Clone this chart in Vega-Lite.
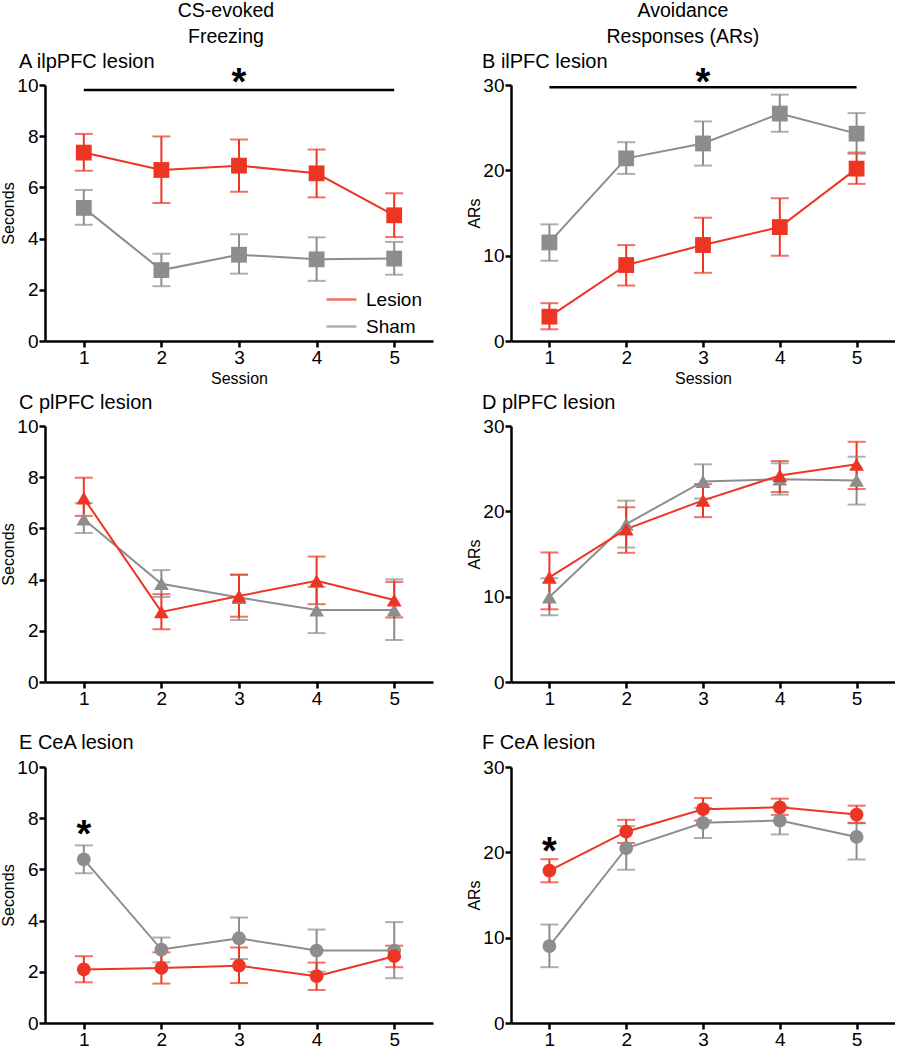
{
 "$schema": "https://vega.github.io/schema/vega-lite/v6.json",
 "padding": {"top": 0, "left": 0, "right": 0, "bottom": 0},
 "datasets": {
  "groups": [
   {"panel":"A","group":"Sham","session":1,"mean":5.2,"lo":4.54,"hi":5.9},
   {"panel":"A","group":"Sham","session":2,"mean":2.77,"lo":2.14,"hi":3.41},
   {"panel":"A","group":"Sham","session":3,"mean":3.37,"lo":2.63,"hi":4.17},
   {"panel":"A","group":"Sham","session":4,"mean":3.19,"lo":2.35,"hi":4.05},
   {"panel":"A","group":"Sham","session":5,"mean":3.22,"lo":2.59,"hi":3.87},
   {"panel":"A","group":"Lesion","session":1,"mean":7.36,"lo":6.65,"hi":8.09},
   {"panel":"A","group":"Lesion","session":2,"mean":6.68,"lo":5.39,"hi":7.99},
   {"panel":"A","group":"Lesion","session":3,"mean":6.85,"lo":5.83,"hi":7.87},
   {"panel":"A","group":"Lesion","session":4,"mean":6.55,"lo":5.61,"hi":7.48},
   {"panel":"A","group":"Lesion","session":5,"mean":4.91,"lo":4.06,"hi":5.77},
   {"panel":"B","group":"Sham","session":1,"mean":11.55,"lo":9.4,"hi":13.67},
   {"panel":"B","group":"Sham","session":2,"mean":21.4,"lo":19.58,"hi":23.3},
   {"panel":"B","group":"Sham","session":3,"mean":23.15,"lo":20.56,"hi":25.73},
   {"panel":"B","group":"Sham","session":4,"mean":26.65,"lo":24.52,"hi":28.87},
   {"panel":"B","group":"Sham","session":5,"mean":24.3,"lo":21.93,"hi":26.71},
   {"panel":"B","group":"Lesion","session":1,"mean":2.85,"lo":1.37,"hi":4.43},
   {"panel":"B","group":"Lesion","session":2,"mean":8.9,"lo":6.5,"hi":11.24},
   {"panel":"B","group":"Lesion","session":3,"mean":11.25,"lo":7.99,"hi":14.45},
   {"panel":"B","group":"Lesion","session":4,"mean":13.35,"lo":9.99,"hi":16.73},
   {"panel":"B","group":"Lesion","session":5,"mean":20.2,"lo":18.41,"hi":22.09},
   {"panel":"C","group":"Sham","session":1,"mean":6.36,"lo":5.82,"hi":6.99},
   {"panel":"C","group":"Sham","session":2,"mean":3.84,"lo":3.32,"hi":4.37},
   {"panel":"C","group":"Sham","session":3,"mean":3.3,"lo":2.42,"hi":4.18},
   {"panel":"C","group":"Sham","session":4,"mean":2.81,"lo":1.91,"hi":3.71},
   {"panel":"C","group":"Sham","session":5,"mean":2.81,"lo":1.64,"hi":4.01},
   {"panel":"C","group":"Lesion","session":1,"mean":7.18,"lo":6.49,"hi":7.98},
   {"panel":"C","group":"Lesion","session":2,"mean":2.74,"lo":2.06,"hi":3.43},
   {"panel":"C","group":"Lesion","session":3,"mean":3.36,"lo":2.55,"hi":4.2},
   {"panel":"C","group":"Lesion","session":4,"mean":3.95,"lo":3.04,"hi":4.9},
   {"panel":"C","group":"Lesion","session":5,"mean":3.2,"lo":2.52,"hi":3.91},
   {"panel":"D","group":"Sham","session":1,"mean":9.95,"lo":7.82,"hi":12.16},
   {"panel":"D","group":"Sham","session":2,"mean":18.5,"lo":15.76,"hi":21.25},
   {"panel":"D","group":"Sham","session":3,"mean":23.5,"lo":21.5,"hi":25.51},
   {"panel":"D","group":"Sham","session":4,"mean":23.77,"lo":21.95,"hi":25.63},
   {"panel":"D","group":"Sham","session":5,"mean":23.62,"lo":20.79,"hi":26.4},
   {"panel":"D","group":"Lesion","session":1,"mean":12.27,"lo":8.52,"hi":15.18},
   {"panel":"D","group":"Lesion","session":2,"mean":17.92,"lo":15.14,"hi":20.48},
   {"panel":"D","group":"Lesion","session":3,"mean":21.29,"lo":19.32,"hi":23.19},
   {"panel":"D","group":"Lesion","session":4,"mean":24.2,"lo":22.26,"hi":25.9},
   {"panel":"D","group":"Lesion","session":5,"mean":25.51,"lo":22.61,"hi":28.15},
   {"panel":"E","group":"Sham","session":1,"mean":6.39,"lo":5.85,"hi":6.94},
   {"panel":"E","group":"Sham","session":2,"mean":2.87,"lo":2.37,"hi":3.34},
   {"panel":"E","group":"Sham","session":3,"mean":3.31,"lo":2.5,"hi":4.12},
   {"panel":"E","group":"Sham","session":4,"mean":2.83,"lo":2.0,"hi":3.65},
   {"panel":"E","group":"Sham","session":5,"mean":2.83,"lo":1.75,"hi":3.94},
   {"panel":"E","group":"Lesion","session":1,"mean":2.09,"lo":1.59,"hi":2.61},
   {"panel":"E","group":"Lesion","session":2,"mean":2.15,"lo":1.54,"hi":2.76},
   {"panel":"E","group":"Lesion","session":3,"mean":2.24,"lo":1.56,"hi":2.95},
   {"panel":"E","group":"Lesion","session":4,"mean":1.83,"lo":1.29,"hi":2.36},
   {"panel":"E","group":"Lesion","session":5,"mean":2.61,"lo":2.18,"hi":3.02},
   {"panel":"F","group":"Sham","session":1,"mean":9.02,"lo":6.54,"hi":11.54},
   {"panel":"F","group":"Sham","session":2,"mean":20.48,"lo":17.96,"hi":23.07},
   {"panel":"F","group":"Sham","session":3,"mean":23.46,"lo":21.68,"hi":25.2},
   {"panel":"F","group":"Sham","session":4,"mean":23.73,"lo":22.1,"hi":25.3},
   {"panel":"F","group":"Sham","session":5,"mean":21.8,"lo":19.16,"hi":23.4},
   {"panel":"F","group":"Lesion","session":1,"mean":17.85,"lo":16.49,"hi":19.2},
   {"panel":"F","group":"Lesion","session":2,"mean":22.42,"lo":21.1,"hi":23.81},
   {"panel":"F","group":"Lesion","session":3,"mean":25.05,"lo":23.73,"hi":26.36},
   {"panel":"F","group":"Lesion","session":4,"mean":25.28,"lo":24.39,"hi":26.29},
   {"panel":"F","group":"Lesion","session":5,"mean":24.43,"lo":23.46,"hi":25.47}
  ],
  "annot": [
   {"panel":"A","kind":"star","session":3,"y":10.45,"label":"*"},
   {"panel":"A","kind":"line","session":1,"session2":5,"y":9.8},
   {"panel":"B","kind":"star","session":3,"y":31.35,"label":"*"},
   {"panel":"B","kind":"line","session":1,"session2":5,"y":29.75},
   {"panel":"E","kind":"star","session":1,"y":7.72,"label":"*"},
   {"panel":"F","kind":"star","session":1,"y":21.2,"label":"*"}
  ]
 },
 "config": {
  "font": "Liberation Sans",
  "view": {"stroke": null},
  "axis": {"grid": false, "domainColor": "black", "domainWidth": 2.5, "tickColor": "black", "tickWidth": 2.5, "tickSize": 6, "labelFontSize": 19, "labelColor": "black", "titleFontSize": 16, "titleFontWeight": "normal", "titleColor": "black", "labelPadding": 1, "labelFlush": false},
  "axisY": {"titlePadding": 0},
  "axisX": {"titlePadding": 3},
  "title": {"fontSize": 20, "fontWeight": "normal", "anchor": "start", "frame": "group", "dx": -26, "offset": 4, "color": "black"}
 },
 "spacing": 33,
 "resolve": {"scale": {"color": "independent"}, "legend": {"color": "independent"}},
 "hconcat": [
  {
   "title": {"text": ["CS-evoked", "Freezing"], "fontSize": 19.5, "anchor": "middle", "frame": "bounds", "dx": 9, "lineHeight": 26, "offset": 5},
   "spacing": 85,
   "bounds": "flush",
   "resolve": {"scale": {"color": "independent"}, "legend": {"color": "independent"}},
   "vconcat": [
    {
     "width": 388, "height": 256,
     "title": {"text": "A ilpPFC lesion", "offset": -7},
     "encoding": {"x": {"field": "session", "type": "quantitative", "scale": {"domain": [0.5, 5.5]}, "axis": {"values": [1,2,3,4,5], "format": "d"}, "title": "Session"}},
     "layer": [
      {"data": {"name": "groups"}, "transform": [{"filter": "datum.panel === 'A'"}],
       "encoding": {"color": {"field": "group", "type": "nominal", "scale": {"domain": ["Lesion","Sham"], "range": ["#EE3524","#8D8D8D"]},
         "legend": {"title": null, "orient": "none", "legendX": 280, "legendY": 198, "symbolType": "stroke", "symbolSize": 900, "symbolStrokeWidth": 2.5, "labelFontSize": 19, "labelColor": "black", "rowPadding": -3, "labelOffset": 8}}},
       "layer": [
        {"mark": {"type": "rule", "strokeWidth": 2}, "encoding": {"y": {"field": "lo", "type": "quantitative", "scale": {"domain": [0,10]}, "axis": {"values": [0,2,4,6,8,10]}, "title": "Seconds"}, "y2": {"field": "hi"}}},
        {"mark": {"type": "tick", "orient": "horizontal", "size": 18, "thickness": 2}, "encoding": {"y": {"field": "hi", "type": "quantitative", "title": "Seconds"}}},
        {"mark": {"type": "tick", "orient": "horizontal", "size": 18, "thickness": 2}, "encoding": {"y": {"field": "lo", "type": "quantitative", "title": "Seconds"}}},
        {"mark": {"type": "line", "strokeWidth": 2}, "encoding": {"y": {"field": "mean", "type": "quantitative", "title": "Seconds"}}},
        {"mark": {"type": "point", "shape": "square", "filled": true, "size": 250, "opacity": 1}, "encoding": {"y": {"field": "mean", "type": "quantitative", "title": "Seconds"}}}
       ]},
      {"data": {"name": "annot"}, "transform": [{"filter": "datum.panel === 'A' && datum.kind === 'star'"}],
       "mark": {"type": "text", "fontSize": 38, "fontWeight": "bold", "baseline": "alphabetic", "dy": 22, "color": "black"},
       "encoding": {"y": {"field": "y", "type": "quantitative", "title": "Seconds"}, "text": {"field": "label"}}},
      {"data": {"name": "annot"}, "transform": [{"filter": "datum.panel === 'A' && datum.kind === 'line'"}],
       "mark": {"type": "rule", "strokeWidth": 2.5, "color": "black"},
       "encoding": {"x2": {"field": "session2"}, "y": {"field": "y", "type": "quantitative", "title": "Seconds"}}}
     ]
    },
    {
     "width": 388, "height": 256,
     "title": {"text": "C plPFC lesion"},
     "encoding": {"x": {"field": "session", "type": "quantitative", "scale": {"domain": [0.5, 5.5]}, "axis": {"values": [1,2,3,4,5], "format": "d"}, "title": null}},
     "layer": [
      {"data": {"name": "groups"}, "transform": [{"filter": "datum.panel === 'C'"}],
       "encoding": {"color": {"field": "group", "type": "nominal", "scale": {"domain": ["Lesion","Sham"], "range": ["#EE3524","#8D8D8D"]}, "legend": null}},
       "layer": [
        {"mark": {"type": "rule", "strokeWidth": 2}, "encoding": {"y": {"field": "lo", "type": "quantitative", "scale": {"domain": [0,10]}, "axis": {"values": [0,2,4,6,8,10]}, "title": "Seconds"}, "y2": {"field": "hi"}}},
        {"mark": {"type": "tick", "orient": "horizontal", "size": 18, "thickness": 2}, "encoding": {"y": {"field": "hi", "type": "quantitative", "title": "Seconds"}}},
        {"mark": {"type": "tick", "orient": "horizontal", "size": 18, "thickness": 2}, "encoding": {"y": {"field": "lo", "type": "quantitative", "title": "Seconds"}}},
        {"mark": {"type": "line", "strokeWidth": 2}, "encoding": {"y": {"field": "mean", "type": "quantitative", "title": "Seconds"}}},
        {"mark": {"type": "point", "shape": "triangle-up", "filled": true, "size": 220, "opacity": 1}, "encoding": {"y": {"field": "mean", "type": "quantitative", "title": "Seconds"}}}
       ]}
     ]
    },
    {
     "width": 388, "height": 256,
     "title": {"text": "E CeA lesion", "offset": 5},
     "encoding": {"x": {"field": "session", "type": "quantitative", "scale": {"domain": [0.5, 5.5]}, "axis": {"values": [1,2,3,4,5], "format": "d"}, "title": null}},
     "layer": [
      {"data": {"name": "groups"}, "transform": [{"filter": "datum.panel === 'E'"}],
       "encoding": {"color": {"field": "group", "type": "nominal", "scale": {"domain": ["Lesion","Sham"], "range": ["#EE3524","#8D8D8D"]}, "legend": null}},
       "layer": [
        {"mark": {"type": "rule", "strokeWidth": 2}, "encoding": {"y": {"field": "lo", "type": "quantitative", "scale": {"domain": [0,10]}, "axis": {"values": [0,2,4,6,8,10]}, "title": "Seconds"}, "y2": {"field": "hi"}}},
        {"mark": {"type": "tick", "orient": "horizontal", "size": 18, "thickness": 2}, "encoding": {"y": {"field": "hi", "type": "quantitative", "title": "Seconds"}}},
        {"mark": {"type": "tick", "orient": "horizontal", "size": 18, "thickness": 2}, "encoding": {"y": {"field": "lo", "type": "quantitative", "title": "Seconds"}}},
        {"mark": {"type": "line", "strokeWidth": 2}, "encoding": {"y": {"field": "mean", "type": "quantitative", "title": "Seconds"}}},
        {"mark": {"type": "point", "shape": "circle", "filled": true, "size": 190, "opacity": 1}, "encoding": {"y": {"field": "mean", "type": "quantitative", "title": "Seconds"}}}
       ]},
      {"data": {"name": "annot"}, "transform": [{"filter": "datum.panel === 'E' && datum.kind === 'star'"}],
       "mark": {"type": "text", "fontSize": 38, "fontWeight": "bold", "baseline": "alphabetic", "dy": 22, "color": "black"},
       "encoding": {"y": {"field": "y", "type": "quantitative", "title": "Seconds"}, "text": {"field": "label"}}}
     ]
    }
   ]
  },
  {
   "title": {"text": ["Avoidance", "Responses (ARs)"], "fontSize": 19.5, "anchor": "middle", "frame": "bounds", "dx": 2, "lineHeight": 26, "offset": 5},
   "spacing": 85,
   "bounds": "flush",
   "resolve": {"scale": {"color": "independent"}, "legend": {"color": "independent"}},
   "vconcat": [
    {
     "width": 384, "height": 256,
     "title": {"text": "B ilPFC lesion", "offset": -7, "dx": -29},
     "encoding": {"x": {"field": "session", "type": "quantitative", "scale": {"domain": [0.5, 5.5]}, "axis": {"values": [1,2,3,4,5], "format": "d"}, "title": "Session"}},
     "layer": [
      {"data": {"name": "groups"}, "transform": [{"filter": "datum.panel === 'B'"}],
       "encoding": {"color": {"field": "group", "type": "nominal", "scale": {"domain": ["Lesion","Sham"], "range": ["#EE3524","#8D8D8D"]}, "legend": null}},
       "layer": [
        {"mark": {"type": "rule", "strokeWidth": 2}, "encoding": {"y": {"field": "lo", "type": "quantitative", "scale": {"domain": [0,30]}, "axis": {"values": [0,10,20,30]}, "title": "ARs"}, "y2": {"field": "hi"}}},
        {"mark": {"type": "tick", "orient": "horizontal", "size": 18, "thickness": 2}, "encoding": {"y": {"field": "hi", "type": "quantitative", "title": "ARs"}}},
        {"mark": {"type": "tick", "orient": "horizontal", "size": 18, "thickness": 2}, "encoding": {"y": {"field": "lo", "type": "quantitative", "title": "ARs"}}},
        {"mark": {"type": "line", "strokeWidth": 2}, "encoding": {"y": {"field": "mean", "type": "quantitative", "title": "ARs"}}},
        {"mark": {"type": "point", "shape": "square", "filled": true, "size": 250, "opacity": 1}, "encoding": {"y": {"field": "mean", "type": "quantitative", "title": "ARs"}}}
       ]},
      {"data": {"name": "annot"}, "transform": [{"filter": "datum.panel === 'B' && datum.kind === 'star'"}],
       "mark": {"type": "text", "fontSize": 38, "fontWeight": "bold", "baseline": "alphabetic", "dy": 22, "color": "black"},
       "encoding": {"y": {"field": "y", "type": "quantitative", "title": "ARs"}, "text": {"field": "label"}}},
      {"data": {"name": "annot"}, "transform": [{"filter": "datum.panel === 'B' && datum.kind === 'line'"}],
       "mark": {"type": "rule", "strokeWidth": 2.5, "color": "black"},
       "encoding": {"x2": {"field": "session2"}, "y": {"field": "y", "type": "quantitative", "title": "ARs"}}}
     ]
    },
    {
     "width": 384, "height": 256,
     "title": {"text": "D plPFC lesion", "dx": -29},
     "encoding": {"x": {"field": "session", "type": "quantitative", "scale": {"domain": [0.5, 5.5]}, "axis": {"values": [1,2,3,4,5], "format": "d"}, "title": null}},
     "layer": [
      {"data": {"name": "groups"}, "transform": [{"filter": "datum.panel === 'D'"}],
       "encoding": {"color": {"field": "group", "type": "nominal", "scale": {"domain": ["Lesion","Sham"], "range": ["#EE3524","#8D8D8D"]}, "legend": null}},
       "layer": [
        {"mark": {"type": "rule", "strokeWidth": 2}, "encoding": {"y": {"field": "lo", "type": "quantitative", "scale": {"domain": [0,30]}, "axis": {"values": [0,10,20,30]}, "title": "ARs"}, "y2": {"field": "hi"}}},
        {"mark": {"type": "tick", "orient": "horizontal", "size": 18, "thickness": 2}, "encoding": {"y": {"field": "hi", "type": "quantitative", "title": "ARs"}}},
        {"mark": {"type": "tick", "orient": "horizontal", "size": 18, "thickness": 2}, "encoding": {"y": {"field": "lo", "type": "quantitative", "title": "ARs"}}},
        {"mark": {"type": "line", "strokeWidth": 2}, "encoding": {"y": {"field": "mean", "type": "quantitative", "title": "ARs"}}},
        {"mark": {"type": "point", "shape": "triangle-up", "filled": true, "size": 220, "opacity": 1}, "encoding": {"y": {"field": "mean", "type": "quantitative", "title": "ARs"}}}
       ]}
     ]
    },
    {
     "width": 384, "height": 256,
     "title": {"text": "F CeA lesion", "offset": 5, "dx": -29},
     "encoding": {"x": {"field": "session", "type": "quantitative", "scale": {"domain": [0.5, 5.5]}, "axis": {"values": [1,2,3,4,5], "format": "d"}, "title": null}},
     "layer": [
      {"data": {"name": "groups"}, "transform": [{"filter": "datum.panel === 'F'"}],
       "encoding": {"color": {"field": "group", "type": "nominal", "scale": {"domain": ["Lesion","Sham"], "range": ["#EE3524","#8D8D8D"]}, "legend": null}},
       "layer": [
        {"mark": {"type": "rule", "strokeWidth": 2}, "encoding": {"y": {"field": "lo", "type": "quantitative", "scale": {"domain": [0,30]}, "axis": {"values": [0,10,20,30]}, "title": "ARs"}, "y2": {"field": "hi"}}},
        {"mark": {"type": "tick", "orient": "horizontal", "size": 18, "thickness": 2}, "encoding": {"y": {"field": "hi", "type": "quantitative", "title": "ARs"}}},
        {"mark": {"type": "tick", "orient": "horizontal", "size": 18, "thickness": 2}, "encoding": {"y": {"field": "lo", "type": "quantitative", "title": "ARs"}}},
        {"mark": {"type": "line", "strokeWidth": 2}, "encoding": {"y": {"field": "mean", "type": "quantitative", "title": "ARs"}}},
        {"mark": {"type": "point", "shape": "circle", "filled": true, "size": 190, "opacity": 1}, "encoding": {"y": {"field": "mean", "type": "quantitative", "title": "ARs"}}}
       ]},
      {"data": {"name": "annot"}, "transform": [{"filter": "datum.panel === 'F' && datum.kind === 'star'"}],
       "mark": {"type": "text", "fontSize": 38, "fontWeight": "bold", "baseline": "alphabetic", "dy": 22, "color": "black"},
       "encoding": {"y": {"field": "y", "type": "quantitative", "title": "ARs"}, "text": {"field": "label"}}}
     ]
    }
   ]
  }
 ]
}
